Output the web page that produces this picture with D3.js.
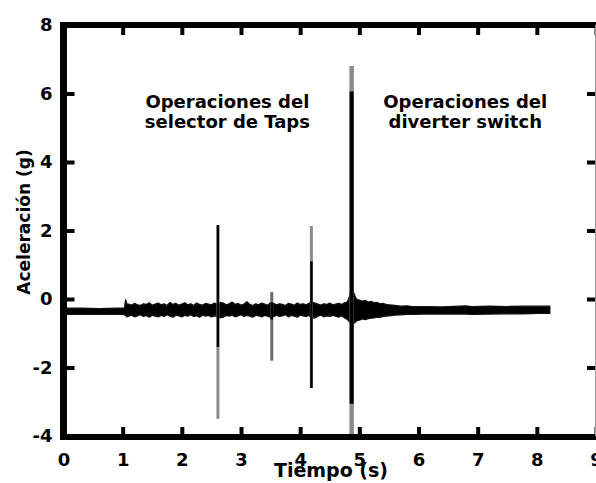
<!DOCTYPE html>
<html>
<head>
<meta charset="utf-8">
<script src="https://cdn.jsdelivr.net/npm/d3@7"></script>
<style>
  html, body { margin: 0; padding: 0; background: #fff; }
  svg { display: block; }
  text { font-family: "DejaVu Sans", Verdana, sans-serif; font-weight: bold; fill: #000; }
</style>
</head>
<body>
<svg id="chart" width="596" height="483"></svg>
<script>
// Axis ticks
const xTicks = [0, 1, 2, 3, 4, 5, 6, 7, 8, 9];
const yTicks = [-4, -2, 0, 2, 4, 6, 8];

// Envelope of the acceleration trace (time in s, upper / lower edge in g)
const envTime = [
  0.00, 0.30, 0.60, 0.90, 1.00, 1.03, 1.05, 1.07,
  1.10, 1.15, 1.20, 1.25, 1.30, 1.35, 1.40, 1.45, 1.50, 1.55,
  1.60, 1.65, 1.70, 1.75, 1.80, 1.85, 1.90, 1.95, 2.00, 2.05,
  2.10, 2.15, 2.20, 2.25, 2.30, 2.35, 2.40, 2.45, 2.50, 2.55,
  2.60, 2.65, 2.70, 2.75, 2.80, 2.85, 2.90, 2.95, 3.00, 3.05,
  3.10, 3.15, 3.20, 3.25, 3.30, 3.35, 3.40, 3.45, 3.50, 3.55,
  3.60, 3.65, 3.70, 3.75, 3.80, 3.85, 3.90, 3.95, 4.00, 4.05,
  4.10, 4.15, 4.20, 4.25, 4.30, 4.35, 4.40, 4.45, 4.50, 4.55,
  4.60, 4.65, 4.70, 4.75, 4.80,
  4.84, 4.87, 4.90, 4.95, 5.00, 5.05, 5.10, 5.15, 5.20, 5.25,
  5.30, 5.35, 5.40, 5.45, 5.50, 5.60, 5.70, 5.80, 5.90, 6.10,
  6.40, 6.80, 6.90, 7.20, 7.50, 7.80, 8.00, 8.22
];
const envUpper = [
  -0.27, -0.27, -0.28, -0.27, -0.27, -0.26, -0.02, -0.14,
  -0.15, -0.18, -0.13, -0.17, -0.19, -0.14, -0.16, -0.11, -0.18, -0.15,
  -0.12, -0.17, -0.14, -0.19, -0.10, -0.16, -0.13, -0.18, -0.15, -0.11,
  -0.17, -0.14, -0.19, -0.12, -0.16, -0.18, -0.13, -0.15, -0.17, -0.12,
  -0.16, -0.10, -0.12, -0.17, -0.14, -0.09, -0.16, -0.13, -0.18, -0.15,
  -0.08, -0.16, -0.19, -0.14, -0.17, -0.12, -0.15, -0.18, -0.11, -0.13,
  -0.17, -0.14, -0.16, -0.19, -0.13, -0.15, -0.18, -0.12, -0.16, -0.14,
  -0.17, -0.13, -0.09, -0.12, -0.15, -0.18, -0.14, -0.16, -0.12, -0.17,
  -0.15, -0.13, -0.16, -0.11, -0.08,
  0.10, 0.45, 0.20, 0.00, -0.03, -0.06, -0.04, -0.09, -0.07, -0.11,
  -0.10, -0.14, -0.13, -0.16, -0.17, -0.19, -0.21, -0.20, -0.22, -0.22,
  -0.23, -0.20, -0.22, -0.21, -0.22, -0.21, -0.21, -0.21
];
const envLower = [
  -0.45, -0.45, -0.44, -0.45, -0.45, -0.46, -0.48, -0.52,
  -0.50, -0.47, -0.52, -0.49, -0.46, -0.51, -0.48, -0.53, -0.47, -0.50,
  -0.52, -0.48, -0.51, -0.46, -0.50, -0.53, -0.47, -0.49, -0.52, -0.48,
  -0.50, -0.46, -0.51, -0.49, -0.53, -0.47, -0.50, -0.48, -0.52, -0.49,
  -0.51, -0.55, -0.53, -0.48, -0.50, -0.47, -0.52, -0.49, -0.46, -0.51,
  -0.48, -0.50, -0.53, -0.47, -0.49, -0.52, -0.48, -0.50, -0.54, -0.52,
  -0.47, -0.51, -0.49, -0.46, -0.52, -0.48, -0.50, -0.53, -0.47, -0.49,
  -0.51, -0.48, -0.56, -0.55, -0.50, -0.47, -0.52, -0.49, -0.51, -0.48,
  -0.50, -0.53, -0.49, -0.55, -0.60,
  -0.68, -0.75, -0.72, -0.64, -0.62, -0.58, -0.60, -0.57, -0.56, -0.55,
  -0.53, -0.54, -0.51, -0.50, -0.49, -0.47, -0.46, -0.45, -0.45, -0.44,
  -0.44, -0.44, -0.45, -0.44, -0.43, -0.43, -0.42, -0.42
];

// Switching transients: full excursion and the dense core of each spike (g)
const spikeTime    = [2.61, 3.52, 4.19, 4.87];
const spikeMax     = [2.16, 0.20, 2.13, 6.80];
const spikeMin     = [-3.50, -1.80, -2.60, -4.05];
const spikeCoreMax = [2.16, -0.10, 1.10, 6.06];
const spikeCoreMin = [-1.40, -0.60, -2.60, -3.06];

// Annotation text
const noteSelector = ["Operaciones del", "selector de Taps"];
const noteDiverter = ["Operaciones del", "diverter switch"];
const noteTime     = [2.77, 6.79];

const svg = d3.select("#chart");

const x = d3.scaleLinear().domain([0, 9]).range([63.5, 596]);
const y = d3.scaleLinear().domain([-4, 8]).range([436, 25]);

// Trace envelope
const env = envTime.map((t, i) => ({ t, hi: envUpper[i], lo: envLower[i] }));
svg.append("path")
  .datum(env)
  .attr("d", d3.area().x(d => x(d.t)).y0(d => y(d.lo)).y1(d => y(d.hi)))
  .attr("fill", "#000")
  .attr("stroke", "#111")
  .attr("stroke-width", 1.3)
  .attr("stroke-linejoin", "round");

// Spikes: lighter full excursion, dark core
const spikes = spikeTime.map((t, i) => ({
  t, max: spikeMax[i], min: spikeMin[i], cmax: spikeCoreMax[i], cmin: spikeCoreMin[i], i
}));
svg.selectAll("line.spike-full")
  .data(spikes)
  .join("line")
  .attr("class", "spike-full")
  .attr("x1", d => x(d.t)).attr("x2", d => x(d.t))
  .attr("y1", d => y(d.max)).attr("y2", d => y(d.min))
  .attr("stroke", d => d.i === 1 ? "#6a6a6a" : "#8c8c8c")
  .attr("stroke-width", d => d.i === 3 ? 4.5 : 3);
svg.selectAll("line.spike-core")
  .data(spikes)
  .join("line")
  .attr("class", "spike-core")
  .attr("x1", d => x(d.t)).attr("x2", d => x(d.t))
  .attr("y1", d => y(d.cmax)).attr("y2", d => y(d.cmin))
  .attr("stroke", "#000")
  .attr("stroke-width", d => d.i === 3 ? 4 : 2.5);

// Axes with inward ticks; labels use a plain hyphen for negatives
const plain = d => String(d);
const tickStyle = g => {
  g.select(".domain").remove();
  g.selectAll(".tick line").attr("stroke", "#000").attr("stroke-width", 4);
  g.selectAll(".tick text")
    .style("font-family", '"DejaVu Sans", Verdana, sans-serif')
    .style("font-weight", "bold")
    .style("font-size", "18px")
    .attr("fill", "#000");
};

svg.append("g")
  .attr("transform", `translate(0,${y(-4)})`)
  .call(d3.axisBottom(x).tickValues(xTicks).tickSize(-9).tickPadding(17).tickFormat(plain))
  .call(tickStyle);

svg.append("g")
  .attr("transform", `translate(${x(0)},0)`)
  .call(d3.axisLeft(y).tickValues(yTicks).tickSize(-11).tickPadding(11).tickFormat(plain))
  .call(tickStyle);

svg.append("g")
  .attr("transform", `translate(0,${y(8)})`)
  .call(d3.axisTop(x).tickValues(xTicks).tickSize(-10).tickFormat(""))
  .call(tickStyle);

svg.append("g")
  .attr("transform", `translate(595,0)`)
  .call(d3.axisRight(y).tickValues(yTicks).tickSize(-8).tickFormat(""))
  .call(tickStyle);

// Frame
svg.append("line").attr("x1", 60).attr("x2", 596).attr("y1", y(8)).attr("y2", y(8))
  .attr("stroke", "#000").attr("stroke-width", 6);
svg.append("line").attr("x1", 60).attr("x2", 596).attr("y1", y(-4) + 1).attr("y2", y(-4) + 1)
  .attr("stroke", "#000").attr("stroke-width", 6);
svg.append("line").attr("x1", x(0)).attr("x2", x(0)).attr("y1", y(8) - 3).attr("y2", y(-4) + 4)
  .attr("stroke", "#000").attr("stroke-width", 7);
svg.append("line").attr("x1", 595.5).attr("x2", 595.5).attr("y1", y(8)).attr("y2", y(-4))
  .attr("stroke", "#999").attr("stroke-width", 1);

// Axis titles
svg.append("text")
  .attr("x", 331).attr("y", 477)
  .attr("text-anchor", "middle")
  .style("font-size", "19px")
  .text("Tiempo (s)");

svg.append("text")
  .attr("transform", "translate(30,222) rotate(-90)")
  .attr("text-anchor", "middle")
  .style("font-size", "17px")
  .text("Aceleración (g)");

// Annotations
[[noteSelector, noteTime[0]], [noteDiverter, noteTime[1]]].forEach(([lines, t]) => {
  const g = svg.append("text")
    .attr("text-anchor", "middle")
    .style("font-size", "18px");
  lines.forEach((s, k) => {
    g.append("tspan").attr("x", x(t)).attr("y", 108 + k * 19.5).text(s);
  });
});
</script>
</body>
</html>
